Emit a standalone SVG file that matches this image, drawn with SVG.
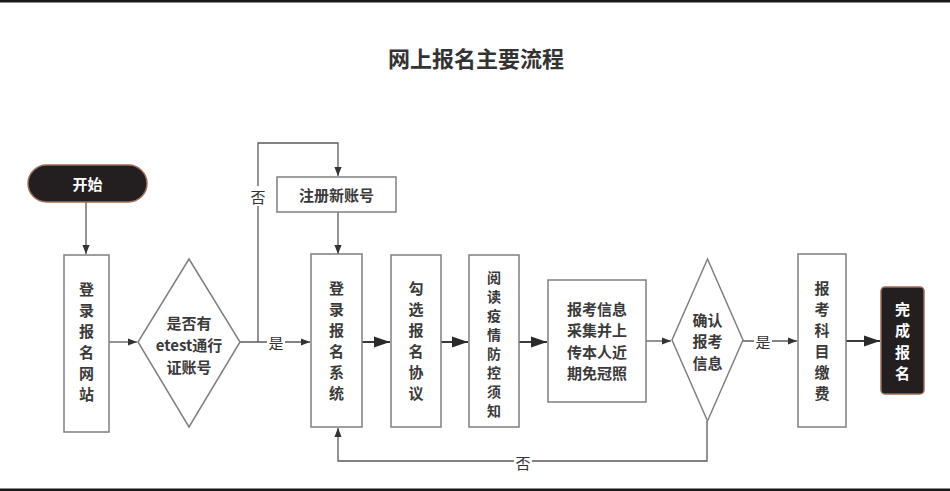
<svg xmlns="http://www.w3.org/2000/svg" width="950" height="491" viewBox="0 0 950 491">
<defs>
<style>
.box{fill:#fff;stroke:#7f7f7f;stroke-width:1.5}
.term{fill:#231f20;stroke:#9a6e58;stroke-width:1.5}
.t{font-family:"Noto Sans CJK SC","Noto Sans",sans-serif;font-size:15px;font-weight:bold;fill:#3a3a3a;text-anchor:middle;dominant-baseline:central}
.tw{font-family:"Noto Sans CJK SC","Noto Sans",sans-serif;font-size:15px;font-weight:bold;fill:#fff;text-anchor:middle;dominant-baseline:central}
.lbl{font-family:"Noto Sans CJK SC","Noto Sans",sans-serif;font-size:15px;fill:#333;text-anchor:middle;dominant-baseline:central}
.ln{fill:none;stroke:#5a5a5a;stroke-width:1.3}
.lnb{fill:none;stroke:#3a3a3a;stroke-width:2}
</style>
<marker id="a" viewBox="0 0 10 10" refX="10" refY="5" markerWidth="9" markerHeight="9" markerUnits="userSpaceOnUse" orient="auto"><path d="M0,1 L10,5 L0,9 Z" fill="#333"/></marker>
<marker id="ab" viewBox="0 0 10 10" refX="10" refY="5" markerWidth="16" markerHeight="16" markerUnits="userSpaceOnUse" orient="auto"><path d="M0,1.5 L10,5 L0,8.5 Z" fill="#2a2a2a"/></marker>
</defs>
<rect x="0" y="0" width="950" height="491" fill="#fff"/>
<rect x="0" y="0" width="950" height="2.5" fill="#1a1a1a"/>
<rect x="0" y="488.5" width="950" height="2.5" fill="#1a1a1a"/>
<text x="476" y="57" style="font-family:'Noto Sans CJK SC','Noto Sans',sans-serif;font-size:22px;font-weight:bold;fill:#333;text-anchor:middle;dominant-baseline:central">网上报名主要流程</text>

<g id="connectors">
<path class="ln" d="M86,202 V254" marker-end="url(#a)"/>
<path class="ln" d="M109,342 H137" marker-end="url(#a)"/>
<path class="ln" d="M240,342 H310" marker-end="url(#a)"/>
<path class="ln" d="M258,342 V143 H338 V176" marker-end="url(#a)"/>
<path class="ln" d="M338,212 V254" marker-end="url(#a)"/>
<path class="lnb" d="M362,342 H390" marker-end="url(#ab)"/>
<path class="lnb" d="M441,342 H468" marker-end="url(#ab)"/>
<path class="lnb" d="M519,342 H547" marker-end="url(#ab)"/>
<path class="ln" d="M646,341 H671" marker-end="url(#a)"/>
<path class="ln" d="M743,341 H797" marker-end="url(#a)"/>
<path class="lnb" d="M846,341 H880" marker-end="url(#ab)"/>
<path class="ln" d="M707,421 V461 H338 V428" marker-end="url(#a)"/>
<rect x="249" y="186" width="18" height="20" fill="#fff"/>
<text class="lbl" x="258" y="196">否</text>
<rect x="267" y="333" width="18" height="18" fill="#fff"/>
<text class="lbl" x="276" y="342">是</text>
<rect x="754" y="332" width="18" height="18" fill="#fff"/>
<text class="lbl" x="763" y="341">是</text>
<rect x="514" y="454" width="18" height="16" fill="#fff"/>
<text class="lbl" x="523" y="462">否</text>
</g>

<g id="start">
<rect class="term" x="28" y="165" width="119" height="37" rx="18.5"/>
<text class="tw" x="87.5" y="183.5">开始</text>
</g>

<g id="login-site">
<rect class="box" x="64" y="255" width="45" height="177"/>
<text class="t"><tspan x="86.5" y="288">登</tspan><tspan x="86.5" y="309">录</tspan><tspan x="86.5" y="330">报</tspan><tspan x="86.5" y="351">名</tspan><tspan x="86.5" y="372">网</tspan><tspan x="86.5" y="393">站</tspan></text>
</g>

<g id="has-account">
<polygon class="box" points="189,259 240,342 189,427 138,342"/>
<text class="t"><tspan x="189" y="322">是否有</tspan><tspan x="189" y="344">etest通行</tspan><tspan x="189" y="366">证账号</tspan></text>
</g>

<g id="register">
<rect class="box" x="277" y="177" width="119" height="35"/>
<text class="t" x="336.5" y="194.5">注册新账号</text>
</g>

<g id="login-system">
<rect class="box" x="311" y="254" width="51" height="173"/>
<text class="t"><tspan x="336.5" y="287">登</tspan><tspan x="336.5" y="308">录</tspan><tspan x="336.5" y="329">报</tspan><tspan x="336.5" y="350">名</tspan><tspan x="336.5" y="371">系</tspan><tspan x="336.5" y="392">统</tspan></text>
</g>

<g id="agreement">
<rect class="box" x="391" y="255" width="50" height="172"/>
<text class="t"><tspan x="416" y="287">勾</tspan><tspan x="416" y="308">选</tspan><tspan x="416" y="329">报</tspan><tspan x="416" y="350">名</tspan><tspan x="416" y="371">协</tspan><tspan x="416" y="392">议</tspan></text>
</g>

<g id="notice">
<rect class="box" x="469" y="255" width="50" height="172"/>
<text class="t" style="font-size:14px"><tspan x="494" y="277">阅</tspan><tspan x="494" y="296">读</tspan><tspan x="494" y="315">疫</tspan><tspan x="494" y="334">情</tspan><tspan x="494" y="353">防</tspan><tspan x="494" y="372">控</tspan><tspan x="494" y="391">须</tspan><tspan x="494" y="410">知</tspan></text>
</g>

<g id="info">
<rect class="box" x="548" y="280" width="98" height="122"/>
<text class="t"><tspan x="597" y="308">报考信息</tspan><tspan x="597" y="329">采集并上</tspan><tspan x="597" y="351">传本人近</tspan><tspan x="597" y="372">期免冠照</tspan></text>
</g>

<g id="confirm">
<polygon class="box" points="707.5,259 743,340 707.5,421 672,340"/>
<text class="t"><tspan x="707.5" y="319">确认</tspan><tspan x="707.5" y="340">报考</tspan><tspan x="707.5" y="362">信息</tspan></text>
</g>

<g id="pay">
<rect class="box" x="798" y="254" width="48" height="173"/>
<text class="t"><tspan x="822" y="287">报</tspan><tspan x="822" y="308">考</tspan><tspan x="822" y="329">科</tspan><tspan x="822" y="350">目</tspan><tspan x="822" y="371">缴</tspan><tspan x="822" y="392">费</tspan></text>
</g>

<g id="done">
<rect class="term" x="881" y="287" width="43" height="107" rx="4"/>
<text class="tw"><tspan x="902.5" y="308">完</tspan><tspan x="902.5" y="329">成</tspan><tspan x="902.5" y="351">报</tspan><tspan x="902.5" y="372">名</tspan></text>
</g>
</svg>
